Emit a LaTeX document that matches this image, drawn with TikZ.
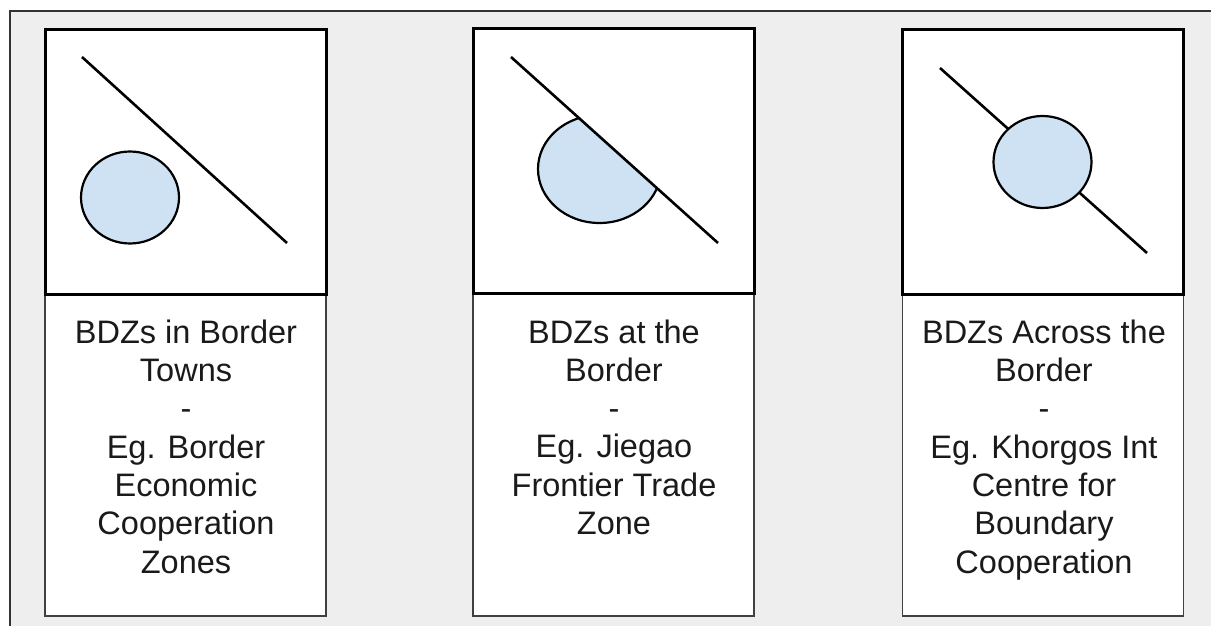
\documentclass[tikz,border=0pt]{standalone}
\usepackage{fontspec}
\setmainfont{Liberation Sans}
\definecolor{bggray}{HTML}{EEEEEE}
\definecolor{zone}{HTML}{CFE2F3}
\definecolor{frame}{HTML}{333333}
\definecolor{txt}{HTML}{1A1A1A}
\tikzset{
  imgbox/.style={draw=black, line width=3pt, fill=white, minimum width=281pt, minimum height=264pt, inner sep=0pt, outer sep=0pt},
  labbox/.style={draw=black!75, line width=1.6pt, fill=white, minimum width=281pt, minimum height=322pt, inner sep=0pt, outer sep=0pt},
  labtext/.style={font=\fontsize{32.5}{38.3}\selectfont, text=txt, align=center, anchor=base, inner sep=0pt},
  border/.style={line width=2.6pt, black},
  zonefill/.style={fill=zone, draw=black, line width=2.2pt}
}
\begin{document}
\begin{tikzpicture}[x=1pt,y=-1pt]
\useasboundingbox (0,0) rectangle (1211,626);
\fill[white] (0,0) rectangle (1211,626);
\fill[bggray] (10,11) rectangle (1211,626);
\draw[frame, line width=2.5pt] (10,626) -- (10,11) -- (1211,11);

% column 1
\node[labbox] (lab1) at (185.5,455) {};
\node[imgbox] (img1) at (185.5,162) {};
\node[labtext] (t1) at (186,573) {BDZs in Border\\Towns\\-\\Eg. Border\\Economic\\Cooperation\\Zones};
\draw[zonefill] (130,197.5) ellipse [x radius=49, y radius=46];
\draw[border] (82,57) -- (287,243);

% column 2
\node[labbox] (lab2) at (613.5,455) {};
\node[imgbox] (img2) at (613.5,161) {};
\node[labtext] (t2) at (614,534.5) {BDZs at the\\Border\\-\\Eg. Jiegao\\Frontier Trade\\Zone};
\begin{scope}
  \clip (450,2.2) -- (800,316.7) -- (450,316.7) -- cycle;
  \draw[zonefill] (599.5,169) ellipse [x radius=61.5, y radius=54];
\end{scope}
\draw[border] (511,57) -- (718,243);

% column 3
\node[labbox] (lab3) at (1043,455) {};
\node[imgbox] (img3) at (1043,162) {};
\node[labtext] (t3) at (1044,573) {BDZs Across the\\Border\\-\\Eg. Khorgos Int\\Centre for\\Boundary\\Cooperation};
\draw[border] (940,68) -- (1147,253);
\draw[zonefill] (1042.5,162) ellipse [x radius=49, y radius=46];
\end{tikzpicture}
\end{document}
